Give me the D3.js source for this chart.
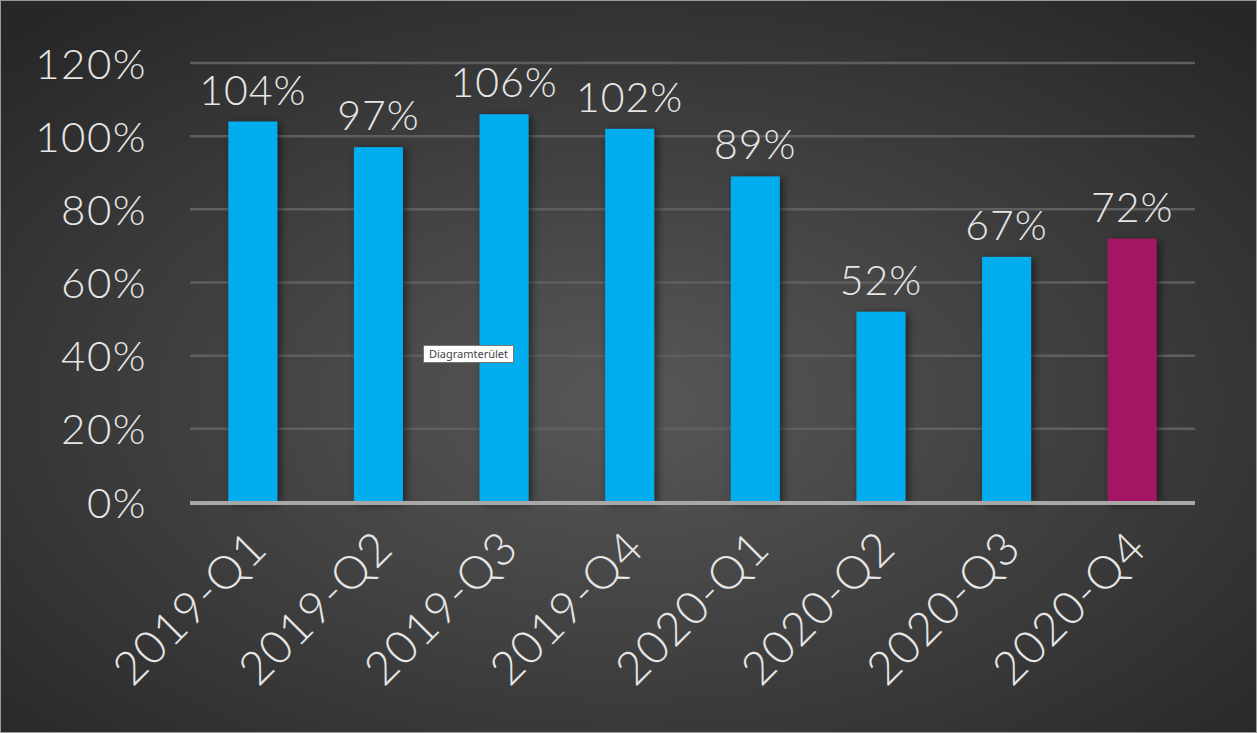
<!DOCTYPE html>
<html><head><meta charset="utf-8">
<script src="https://cdn.jsdelivr.net/npm/d3@7"></script>
<style>
html,body{margin:0;padding:0;background:#2b2b2b;overflow:hidden}
svg{display:block}
</style></head>
<body>
<script>
const categories = ["2019-Q1","2019-Q2","2019-Q3","2019-Q4","2020-Q1","2020-Q2","2020-Q3","2020-Q4"];
const values = [104, 97, 106, 102, 89, 52, 67, 72];
const yTicks = [0, 20, 40, 60, 80, 100, 120];
const barColors = ["#00ADEE","#00ADEE","#00ADEE","#00ADEE","#00ADEE","#00ADEE","#00ADEE","#A21763"];

const W = 1257, H = 733;
const svg = d3.select("body").append("svg").attr("width", W).attr("height", H);
const defs = svg.append("defs");
const rg = defs.append("radialGradient").attr("id","bg")
  .attr("cx","50%").attr("cy","55%").attr("r","70%");
rg.append("stop").attr("offset","0%").attr("stop-color","#585858");
rg.append("stop").attr("offset","100%").attr("stop-color","#272727");
const f = defs.append("filter").attr("id","sh").attr("x","-30%").attr("y","-10%").attr("width","160%").attr("height","120%");
f.append("feDropShadow").attr("dx",3).attr("dy",2).attr("stdDeviation",4).attr("flood-color","#000").attr("flood-opacity",0.55);

svg.append("rect").attr("width",W).attr("height",H).attr("fill","url(#bg)");
svg.append("rect").attr("x",0.5).attr("y",0.5).attr("width",W-1).attr("height",H-1)
  .attr("fill","none").attr("stroke","#9a9a9a").attr("stroke-width",1);

const x = d3.scaleBand().domain(categories).range([190, 1195]).paddingInner(0.61).paddingOuter(0.305);
const y = d3.scaleLinear().domain([0, 120]).range([502, 63]);

const font = "Lato, 'Noto Sans', sans-serif";

// grid
svg.append("g").selectAll("line").data(yTicks.filter(d=>d>0)).join("line")
  .attr("x1",190).attr("x2",1195).attr("y1",d=>y(d)).attr("y2",d=>y(d))
  .attr("stroke","#5f5f5f").attr("stroke-width",2.5);

// y labels
const yAxis = d3.axisLeft(y).tickValues(yTicks).tickFormat(d=>d+"%").tickSize(0).tickPadding(0);
const ya = svg.append("g").attr("transform","translate(147,0)").call(yAxis);
ya.select(".domain").remove();
ya.selectAll("text").attr("fill","#e6e6e6").attr("font-family",font).attr("font-weight",300)
  .attr("font-size",42).attr("letter-spacing","1.5px").attr("dy","0.36em");

// bars
svg.append("g").selectAll("rect").data(values).join("rect")
  .attr("x",(d,i)=>x(categories[i])).attr("width",x.bandwidth())
  .attr("y",d=>y(d)).attr("height",d=>y(0)-y(d))
  .attr("fill",(d,i)=>barColors[i]).attr("filter","url(#sh)");

// baseline
svg.append("line").attr("x1",190).attr("x2",1195).attr("y1",y(0)+1).attr("y2",y(0)+1)
  .attr("stroke","#a8a8a8").attr("stroke-width",4);

// value labels
svg.append("g").selectAll("text").data(values).join("text")
  .attr("x",(d,i)=>x(categories[i])+x.bandwidth()/2).attr("y",d=>y(d)-17)
  .attr("text-anchor","middle").attr("fill","#e6e6e6").attr("font-family",font).attr("font-weight",300)
  .attr("font-size",41).attr("letter-spacing","1px").text(d=>d+"%");

// x labels
const xAxis = d3.axisBottom(x).tickSize(0).tickPadding(0);
const xa = svg.append("g").attr("transform","translate(0,"+(y(0))+")").call(xAxis);
xa.select(".domain").remove();
xa.selectAll("text").attr("fill","#e6e6e6").attr("font-family",font).attr("font-weight",300)
  .attr("font-size",46).attr("letter-spacing","1px").attr("text-anchor","end")
  .attr("transform","translate(-6,26) rotate(-45)").attr("dy","0.7em").attr("dx","0");

// tooltip
const tt = svg.append("g").attr("transform","translate(423,345)");
tt.append("rect").attr("x",0.5).attr("y",0.5).attr("width",90).attr("height",17)
  .attr("fill","#fff").attr("stroke","#767676").attr("stroke-width",1);
tt.append("text").attr("x",45.5).attr("y",13).attr("text-anchor","middle")
  .attr("font-family","'Noto Sans', 'DejaVu Sans', sans-serif").attr("font-size",11).attr("fill","#444")
  .text("Diagramterület");
</script>
</body></html>
